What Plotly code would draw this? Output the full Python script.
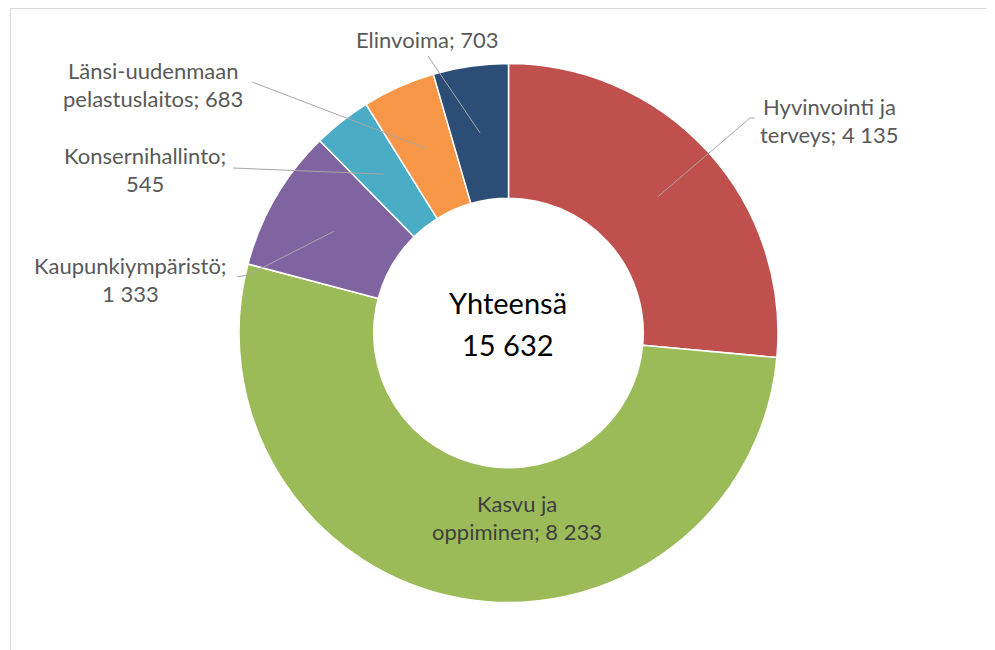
import math

import plotly.graph_objects as go

# data, clockwise from 12 o'clock
labels = [
    "Hyvinvointi ja terveys",
    "Kasvu ja oppiminen",
    "Kaupunkiympäristö",
    "Konsernihallinto",
    "Länsi-uudenmaan pelastuslaitos",
    "Elinvoima",
]
values = [4135, 8233, 1333, 545, 683, 703]
colors = ["#C0504D", "#9BBB59", "#8064A2", "#4BACC6", "#F79646", "#2C4D75"]

# label text lines (value gets appended to the last line)
label_lines = [
    ["Hyvinvointi ja", "terveys; {v}"],
    ["Kasvu ja", "oppiminen; {v}"],
    ["Kaupunkiympäristö;", "{v}"],
    ["Konsernihallinto;", "{v}"],
    ["Länsi-uudenmaan", "pelastuslaitos; {v}"],
    ["Elinvoima; {v}"],
]

W, H = 995, 650
OFF = 8  # page body margin of the browser
CX, CY = 508.5, 333.0
R_OUT = 269.5
HOLE = 0.5

# label centres (screen px) and leader line start points (screen px)
label_pos = [(829, 106), (517, 503), (130, 265), (145, 155), (153, 70), (427, 40)]
leader_start = [
    [(755, 118), (750, 118)],
    None,
    [(237, 277), (248, 275)],
    [(233, 168)],
    [(252, 82)],
    [(428, 56)],
]

LINE_H = 28.5
FONT = "Lato, 'Open Sans', sans-serif"


def fmt(v):
    return f"{v:,}".replace(",", " ")


def px(x, y):
    # screen pixel -> paper coords
    return (x - OFF) / W, 1 - (y - OFF) / H


fig = go.Figure()
x0, y0 = px(CX - R_OUT, CY + R_OUT)
x1, y1 = px(CX + R_OUT, CY - R_OUT)
fig.add_trace(go.Pie(
    labels=labels,
    values=values,
    hole=HOLE,
    sort=False,
    direction="clockwise",
    rotation=0,
    textinfo="none",
    marker=dict(colors=colors, line=dict(color="white", width=1.5)),
    domain=dict(x=[x0, x1], y=[y0, y1]),
    showlegend=False,
))

annotations = []
shapes = []

# slice mid points for leader lines
total = sum(values)
r_mid = R_OUT * (1 + HOLE) / 2
cum = 0
for i, v in enumerate(values):
    mid = (cum + v / 2) / total * 2 * math.pi
    cum += v
    tx = CX + r_mid * math.sin(mid)
    ty = CY - r_mid * math.cos(mid)

    lx, ly = label_pos[i]
    for k, ln in enumerate(label_lines[i]):
        x, y = px(lx, ly + k * LINE_H)
        annotations.append(dict(
            x=x, y=y, xref="paper", yref="paper", showarrow=False,
            text=ln.format(v=fmt(v)), xanchor="center", yanchor="middle",
            font=dict(family=FONT, size=22,
                      color="#404040" if i == 1 else "#595959"),
        ))

    if leader_start[i]:
        pts = leader_start[i] + [(tx, ty)]
        path = "M " + " L ".join(f"{px(a, b)[0]},{px(a, b)[1]}" for a, b in pts)
        shapes.append(dict(type="path", path=path, xref="paper", yref="paper",
                           line=dict(color="#A6A6A6", width=1)))

# centre total
for k, t in enumerate(["Yhteensä", fmt(total)]):
    x, y = px(CX, 303 + k * 41)
    annotations.append(dict(
        x=x, y=y, xref="paper", yref="paper", showarrow=False, text=t,
        xanchor="center", yanchor="middle",
        font=dict(family=FONT, size=29, color="#000000"),
    ))

# chart area frame (cropped at right and bottom)
fx0, fy1 = px(10.5, 8.5)
shapes.append(dict(type="rect", xref="paper", yref="paper",
                   x0=fx0, x1=1.05, y0=-0.05, y1=fy1,
                   line=dict(color="#D9D9D9", width=1)))

fig.update_layout(
    width=W, height=H,
    margin=dict(l=0, r=0, t=0, b=0),
    paper_bgcolor="white",
    plot_bgcolor="white",
    annotations=annotations,
    shapes=shapes,
)

fig.write_html("out.html")
